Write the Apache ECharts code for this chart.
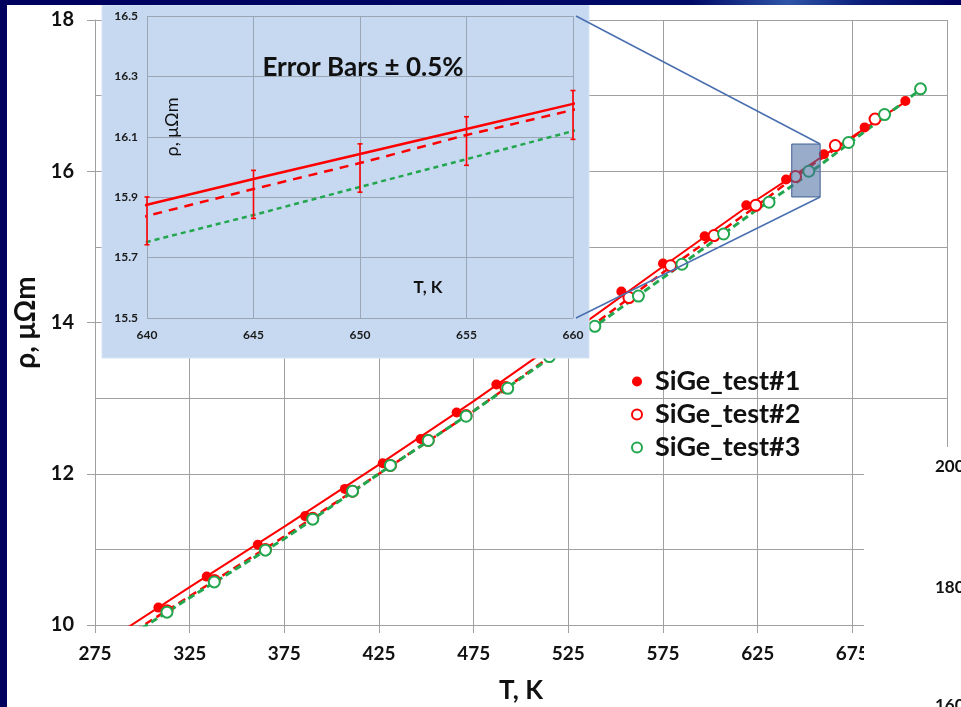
<!DOCTYPE html>
<html>
<head>
<meta charset="utf-8">
<script src="https://cdn.jsdelivr.net/npm/echarts@6/dist/echarts.min.js"></script>
<style>
  html, body { margin: 0; padding: 0; background: #ffffff; }
  #chart { width: 961px; height: 707px; }
</style>
</head>
<body>
<div id="chart"></div>
<script>
// Measured resistivity of SiGe samples (T in K, rho in µΩ·m)
const T1 = [308.5, 334, 361, 386, 407, 427, 447, 466, 487, 553, 575, 597, 619, 640, 660, 681.5, 703];
const R1 = [10.23, 10.64, 11.06, 11.44, 11.80, 12.14, 12.46, 12.81, 13.18, 14.41, 14.78, 15.14, 15.55, 15.89, 16.225, 16.58, 16.93];

const T2 = [313, 338, 365, 390, 411, 431, 451, 471, 492, 557, 579, 602, 624, 645, 666, 687];
const R2 = [10.19, 10.59, 11.00, 11.41, 11.77, 12.11, 12.44, 12.77, 13.14, 14.33, 14.75, 15.15, 15.55, 15.93, 16.34, 16.69];

const T3 = [313, 338, 365, 390, 411, 431, 451, 471, 493, 515, 539, 562, 585, 607, 631, 652, 673, 692, 711];
const R3 = [10.17, 10.57, 10.99, 11.40, 11.77, 12.11, 12.44, 12.76, 13.13, 13.55, 13.95, 14.35, 14.77, 15.17, 15.59, 16.00, 16.38, 16.75, 17.09];

// Trend lines for each sample
const fitT1 = [290, 325, 375, 425, 475, 525, 575, 625, 640, 645, 650, 655, 660, 705];
const fitR1 = [9.93, 10.50, 11.30, 12.12, 12.96, 13.84, 14.74, 15.63, 15.875, 15.96, 16.043, 16.126, 16.209, 16.95];
const fitT2 = [290, 325, 375, 425, 475, 525, 575, 625, 640, 645, 650, 655, 660, 690];
const fitR2 = [9.83, 10.38, 11.17, 12.00, 12.83, 13.72, 14.66, 15.55, 15.838, 15.927, 16.013, 16.106, 16.189, 16.70];
const fitT3 = [290, 325, 375, 425, 475, 525, 575, 625, 640, 645, 650, 655, 660, 712];
const fitR3 = [9.80, 10.36, 11.14, 12.00, 12.83, 13.70, 14.59, 15.50, 15.752, 15.841, 15.934, 16.026, 16.119, 17.10];

// Error bars (±0.5 %) at these temperatures, around the mean of the three trends
const errT = [640, 645, 650, 655, 660];
const errPct = 0.5;

// Highlighted region in the main plot that the inset enlarges
const zoomT = [643, 658];
const zoomR = [15.66, 16.36];

const seriesNames = ['SiGe_test#1', 'SiGe_test#2', 'SiGe_test#3'];
const RED = '#ff0000';
const GREEN = '#22a64e';
const FONT = 'Lato';

const pairs = (xs, ys) => xs.map((x, i) => [x, ys[i]]);
const errData = errT.map(t => {
  const i = fitT1.indexOf(t);
  const m = (fitR1[i] + fitR2[i] + fitR3[i]) / 3;
  const d = m * errPct / 100;
  return [t, m - d, m + d];
});

const chart = echarts.init(document.getElementById('chart'), null, { renderer: 'canvas' });

const gridLine = { color: '#a0a0a0', width: 1 };
const insetGridLine = { color: '#9aa5b5', width: 1 };

function errRender(params, api) {
  const x = api.value(0);
  const top = api.coord([x, api.value(2)]);
  const bot = api.coord([x, api.value(1)]);
  const cap = 2.5;
  const st = { stroke: RED, lineWidth: 1.6 };
  return {
    type: 'group',
    children: [
      { type: 'line', shape: { x1: top[0], y1: top[1], x2: bot[0], y2: bot[1] }, style: st },
      { type: 'line', shape: { x1: top[0] - cap, y1: top[1], x2: top[0] + cap, y2: top[1] }, style: st },
      { type: 'line', shape: { x1: bot[0] - cap, y1: bot[1], x2: bot[0] + cap, y2: bot[1] }, style: st }
    ]
  };
}

const option = {
  backgroundColor: '#ffffff',
  animation: false,
  textStyle: { fontFamily: FONT },
  legend: {
    data: seriesNames,
    orient: 'vertical',
    left: 626,
    top: 363,
    itemWidth: 10,
    itemHeight: 10,
    itemGap: 6,
    textStyle: { fontFamily: FONT, fontWeight: 'bold', fontSize: 27, color: '#111111', padding: [0, 0, 0, 8] },
    selectedMode: false
  },
  grid: [
    { left: 95, right: 14, top: 20, bottom: 82, containLabel: false, outerBoundsMode: 'none' },
    { left: 147, right: 388, top: 16, bottom: 389, containLabel: false, outerBoundsMode: 'none', z: 6 }
  ],
  xAxis: [
    {
      type: 'value', gridIndex: 0, min: 275, max: 725, interval: 50,
      name: 'T, K', nameLocation: 'middle', nameGap: 53,
      nameTextStyle: { fontFamily: FONT, fontWeight: 'bold', fontSize: 26, color: '#111111' },
      axisLine: { show: true, lineStyle: gridLine },
      axisTick: { show: true, length: 8, lineStyle: gridLine },
      axisLabel: { margin: 19, fontFamily: FONT, fontWeight: 'bold', fontSize: 19, color: '#111111' },
      splitLine: { show: true, lineStyle: gridLine }
    },
    {
      type: 'value', gridIndex: 1, min: 640, max: 660, interval: 5, z: 6,
      axisLine: { show: false },
      axisTick: { show: false },
      axisLabel: { margin: 11, fontFamily: FONT, fontWeight: 'bold', fontSize: 12, color: '#1a1a1a' },
      splitLine: { show: true, lineStyle: insetGridLine }
    }
  ],
  yAxis: [
    {
      type: 'value', gridIndex: 0, min: 10, max: 18, interval: 2,
      name: 'ρ, μΩm', nameLocation: 'middle', nameGap: 47, nameRotate: 90,
      nameTextStyle: { fontFamily: FONT, fontWeight: 'bold', fontSize: 28, color: '#111111' },
      axisLine: { show: true, lineStyle: gridLine },
      axisTick: { show: true, length: 8, lineStyle: gridLine },
      minorTick: { show: false, splitNumber: 2 },
      minorSplitLine: { show: true, lineStyle: gridLine },
      axisLabel: { margin: 21, fontFamily: FONT, fontWeight: 'bold', fontSize: 20, color: '#111111' },
      splitLine: { show: true, lineStyle: gridLine }
    },
    {
      type: 'value', gridIndex: 1, min: 15.5, max: 16.5, interval: 0.2, z: 6,
      axisLine: { show: false },
      axisTick: { show: false },
      axisLabel: { margin: 9, fontFamily: FONT, fontWeight: 'bold', fontSize: 12, color: '#1a1a1a',
                   formatter: v => v.toFixed(1) },
      splitLine: { show: true, lineStyle: insetGridLine }
    }
  ],
  series: [
    // trend lines, main plot
    { type: 'line', xAxisIndex: 0, yAxisIndex: 0, data: pairs(fitT1, fitR1), showSymbol: false, z: 2,
      lineStyle: { color: RED, width: 2 } },
    { type: 'line', xAxisIndex: 0, yAxisIndex: 0, data: pairs(fitT2, fitR2), showSymbol: false, z: 2,
      lineStyle: { color: RED, width: 2.5, type: [8, 5] } },
    { type: 'line', xAxisIndex: 0, yAxisIndex: 0, data: pairs(fitT3, fitR3), showSymbol: false, z: 2,
      lineStyle: { color: GREEN, width: 3, type: [7, 4] } },
    // measured points
    { name: seriesNames[0], type: 'scatter', xAxisIndex: 0, yAxisIndex: 0, data: pairs(T1, R1),
      symbol: 'circle', symbolSize: 10, z: 3, itemStyle: { color: RED, opacity: 1 } },
    { name: seriesNames[1], type: 'scatter', xAxisIndex: 0, yAxisIndex: 0, data: pairs(T2, R2),
      symbol: 'circle', symbolSize: 11, z: 3,
      itemStyle: { color: '#ffffff', borderColor: RED, borderWidth: 2, opacity: 1 } },
    { name: seriesNames[2], type: 'scatter', xAxisIndex: 0, yAxisIndex: 0, data: pairs(T3, R3),
      symbol: 'circle', symbolSize: 11, z: 3,
      itemStyle: { color: '#ffffff', borderColor: GREEN, borderWidth: 2, opacity: 1 } },
    // inset: trend lines and error bars
    { type: 'line', xAxisIndex: 1, yAxisIndex: 1, data: pairs(fitT1, fitR1), showSymbol: false, z: 7, clip: true,
      lineStyle: { color: RED, width: 2.5 } },
    { type: 'line', xAxisIndex: 1, yAxisIndex: 1, data: pairs(fitT2, fitR2), showSymbol: false, z: 7, clip: true,
      lineStyle: { color: RED, width: 2.5, type: [9, 7] } },
    { type: 'line', xAxisIndex: 1, yAxisIndex: 1, data: pairs(fitT3, fitR3), showSymbol: false, z: 7, clip: true,
      lineStyle: { color: GREEN, width: 2.5, type: [5, 4] } },
    { type: 'custom', xAxisIndex: 1, yAxisIndex: 1, data: errData, renderItem: errRender, z: 8 }
  ]
};

chart.setOption(option);

// Inset panel, zoom box, connectors and slide decorations
const c = (g, p) => chart.convertToPixel({ xAxisIndex: g, yAxisIndex: g }, p);
const boxA = c(0, [zoomT[0], zoomR[1]]);
const boxB = c(0, [zoomT[1], zoomR[0]]);
const inTop = c(1, [660, 16.5]);
const inBot = c(1, [660, 15.5]);

chart.setOption({
  graphic: [
    { type: 'rect', z: 5, shape: { x: 102, y: 5, width: 487, height: 353 },
      style: { fill: '#c6d9f1', stroke: '#d8e4f4', lineWidth: 1 } },
    { type: 'text', z: 9, x: 363, y: 68,
      style: { text: 'Error Bars ± 0.5%', fontFamily: FONT, fontWeight: 'bold', fontSize: 26, fill: '#111111',
               align: 'center', verticalAlign: 'middle' } },
    { type: 'text', z: 9, x: 172, y: 127, rotation: Math.PI / 2,
      style: { text: 'ρ, μΩm', fontFamily: FONT, fontSize: 18, fill: '#111111',
               align: 'center', verticalAlign: 'middle' } },
    { type: 'text', z: 9, x: 428, y: 288,
      style: { text: 'T, K', fontFamily: FONT, fontWeight: 'bold', fontSize: 17, fill: '#111111',
               align: 'center', verticalAlign: 'middle' } },
    { type: 'rect', z: 10, shape: { x: boxA[0], y: boxA[1], width: boxB[0] - boxA[0], height: boxB[1] - boxA[1] },
      style: { fill: 'rgba(70,105,160,0.55)', stroke: '#3f5f92', lineWidth: 1 } },
    { type: 'line', z: 10, shape: { x1: inTop[0] + 3, y1: inTop[1], x2: boxB[0], y2: boxA[1] },
      style: { stroke: '#4a6fb0', lineWidth: 1.5 } },
    { type: 'line', z: 10, shape: { x1: inBot[0] + 3, y1: inBot[1], x2: boxB[0], y2: boxB[1] },
      style: { stroke: '#4a6fb0', lineWidth: 1.5 } },
    // overlapping panel of a neighbouring chart at the lower right
    { type: 'rect', z: 20, shape: { x: 864, y: 447, width: 100, height: 262 }, style: { fill: '#ffffff' } },
    { type: 'text', z: 21, x: 935, y: 467,
      style: { text: '200', fontFamily: FONT, fontWeight: 'bold', fontSize: 17, fill: '#111111', verticalAlign: 'middle' } },
    { type: 'text', z: 21, x: 935, y: 588,
      style: { text: '180', fontFamily: FONT, fontWeight: 'bold', fontSize: 17, fill: '#111111', verticalAlign: 'middle' } },
    { type: 'text', z: 21, x: 935, y: 706,
      style: { text: '160', fontFamily: FONT, fontWeight: 'bold', fontSize: 17, fill: '#111111', verticalAlign: 'middle' } },
    // slide frame
    { type: 'rect', z: 30, shape: { x: 0, y: 0, width: 961, height: 5 },
      style: { fill: new echarts.graphic.LinearGradient(0, 0, 1, 0, [
        { offset: 0, color: '#00005e' }, { offset: 0.72, color: '#000a66' },
        { offset: 0.82, color: '#2f55a8' }, { offset: 0.9, color: '#0a1c78' }, { offset: 1, color: '#00005e' }]) } },
    { type: 'rect', z: 30, shape: { x: 0, y: 0, width: 7, height: 707 }, style: { fill: '#00005e' } }
  ]
});
</script>
</body>
</html>
